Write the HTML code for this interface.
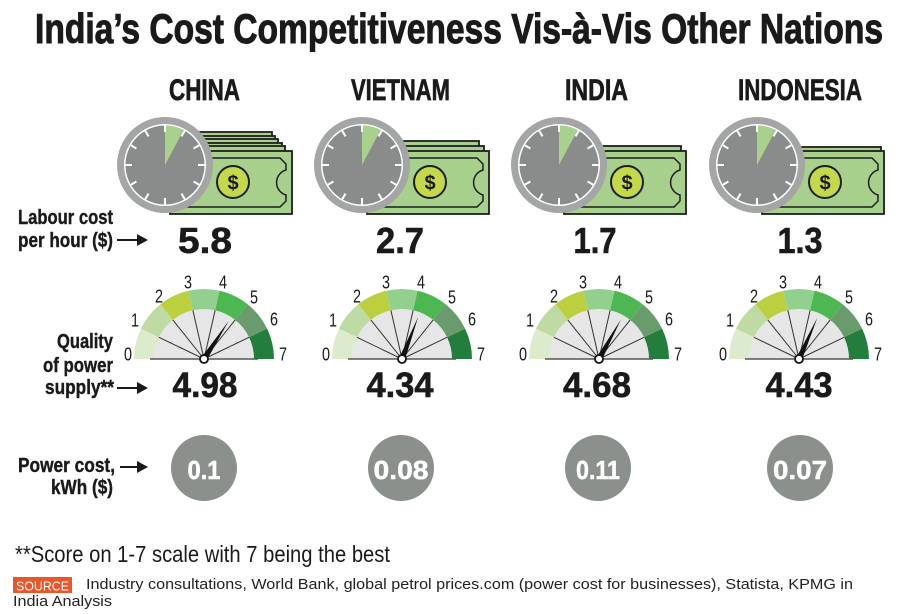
<!DOCTYPE html>
<html><head><meta charset="utf-8"><style>
html,body{margin:0;padding:0;background:#fff;}
svg{display:block;}
text{font-family:"Liberation Sans",sans-serif;fill:#1a1a1a;}
</style></head><body>
<svg width="900" height="614" viewBox="0 0 900 614" xmlns="http://www.w3.org/2000/svg">
<defs>
<g id="clock">
 <circle r="48" fill="#a3a6a4"/>
 <circle r="41" fill="#fff"/>
 <circle r="39.5" fill="#898c8a"/>
 <path d="M0,0 L0,-39.5 A39.5,39.5 0 0 1 18.55,-34.88 Z" fill="#a9d18e"/>
 <g stroke="#fff" stroke-width="2">
  <line y1="-39.5" y2="-33"/>
  <line y1="-39.5" y2="-33" transform="rotate(30)"/>
  <line y1="-39.5" y2="-33" transform="rotate(60)"/>
  <line y1="-39.5" y2="-33" transform="rotate(90)"/>
  <line y1="-39.5" y2="-33" transform="rotate(120)"/>
  <line y1="-39.5" y2="-33" transform="rotate(150)"/>
  <line y1="-39.5" y2="-33" transform="rotate(180)"/>
  <line y1="-39.5" y2="-33" transform="rotate(210)"/>
  <line y1="-39.5" y2="-33" transform="rotate(240)"/>
  <line y1="-39.5" y2="-33" transform="rotate(270)"/>
  <line y1="-39.5" y2="-33" transform="rotate(300)"/>
  <line y1="-39.5" y2="-33" transform="rotate(330)"/>
 </g>
</g>
<rect id="bill" x="-122" y="0" width="122" height="63" fill="#a8d08d" stroke="#1e1e1e" stroke-width="1.8"/>
<g id="frontshape">
 <rect x="-122" y="0" width="122" height="63" fill="#a8d08d" stroke="#1e1e1e" stroke-width="1.8"/>
 <path d="M-110,7 H-12 L-6,13 V19 A13 13 0 0 0 -6,44 V50 L-12,56 H-110" fill="none" stroke="#1e1e1e" stroke-width="1.5"/>
 <circle cx="-59" cy="31" r="16" fill="#c3d94a" stroke="#1e1e1e" stroke-width="2"/>
</g>
<g id="gauge">
 <path d="M-50,0 A50,50 0 0 1 50,0 Z" fill="#e6e6e6"/>
 <path d="M-70,0 A70,70 0 0 1 -63.07,-30.37 L-45.05,-21.69 A50,50 0 0 0 -50,0 Z" fill="#dcebcb"/>
 <path d="M-63.07,-30.37 A70,70 0 0 1 -43.64,-54.73 L-31.17,-39.09 A50,50 0 0 0 -45.05,-21.69 Z" fill="#bddba3"/>
 <path d="M-43.64,-54.73 A70,70 0 0 1 -15.58,-68.25 L-11.13,-48.75 A50,50 0 0 0 -31.17,-39.09 Z" fill="#bcd03f"/>
 <path d="M-15.58,-68.25 A70,70 0 0 1 15.58,-68.25 L11.13,-48.75 A50,50 0 0 0 -11.13,-48.75 Z" fill="#92d08f"/>
 <path d="M15.58,-68.25 A70,70 0 0 1 43.64,-54.73 L31.17,-39.09 A50,50 0 0 0 11.13,-48.75 Z" fill="#4db851"/>
 <path d="M43.64,-54.73 A70,70 0 0 1 63.07,-30.37 L45.05,-21.69 A50,50 0 0 0 31.17,-39.09 Z" fill="#6a9b6c"/>
 <path d="M63.07,-30.37 A70,70 0 0 1 70,0 L50,0 A50,50 0 0 0 45.05,-21.69 Z" fill="#237e3e"/>
 <g stroke="#333" stroke-width="1">
  <line x1="0" y1="0" x2="-45.05" y2="-21.69"/>
  <line x1="0" y1="0" x2="-31.17" y2="-39.09"/>
  <line x1="0" y1="0" x2="-11.13" y2="-48.75"/>
  <line x1="0" y1="0" x2="11.13" y2="-48.75"/>
  <line x1="0" y1="0" x2="31.17" y2="-39.09"/>
  <line x1="0" y1="0" x2="45.05" y2="-21.69"/>
 </g>
 <line x1="-54" y1="0" x2="54" y2="0" stroke="#555" stroke-width="1.5"/>
</g>
</defs>

<!-- Title -->
<text x="35" y="43" font-size="42" font-weight="bold" textLength="848" lengthAdjust="spacingAndGlyphs" stroke="#1a1a1a" stroke-width="1">India’s Cost Competitiveness Vis-à-Vis Other Nations</text>

<!-- Country names -->
<g font-size="30" font-weight="bold" stroke="#1a1a1a" stroke-width="0.7">
<text x="169" y="100" textLength="71" lengthAdjust="spacingAndGlyphs">CHINA</text>
<text x="351" y="100" textLength="99" lengthAdjust="spacingAndGlyphs">VIETNAM</text>
<text x="565" y="100" textLength="63" lengthAdjust="spacingAndGlyphs">INDIA</text>
<text x="738" y="100" textLength="124" lengthAdjust="spacingAndGlyphs">INDONESIA</text>
</g>

<!-- China bills -->
<g transform="translate(292,151)">
 <use href="#bill" transform="translate(-20,-19)"/>
 <use href="#bill" transform="translate(-17,-15)"/>
 <use href="#bill" transform="translate(-14,-12)"/>
 <use href="#bill" transform="translate(-10,-8)"/>
 <use href="#bill" transform="translate(-7,-5)"/>
 <use href="#frontshape"/>
 <text x="-59" y="38.5" font-size="20" font-weight="bold" text-anchor="middle">$</text>
</g>
<use href="#clock" transform="translate(165,165)"/>

<!-- Vietnam bills -->
<g transform="translate(489,151)">
 <use href="#bill" transform="translate(-10,-10)"/>
 <use href="#bill" transform="translate(-5,-5)"/>
 <use href="#frontshape"/>
 <text x="-59" y="38.5" font-size="20" font-weight="bold" text-anchor="middle">$</text>
</g>
<use href="#clock" transform="translate(362,165)"/>

<!-- India bills -->
<g transform="translate(686,151)">
 <use href="#bill" transform="translate(-5,-5)"/>
 <use href="#frontshape"/>
 <text x="-59" y="38.5" font-size="20" font-weight="bold" text-anchor="middle">$</text>
</g>
<use href="#clock" transform="translate(559,165)"/>

<!-- Indonesia bills -->
<g transform="translate(884,151)">
 <use href="#bill" transform="translate(-3,-4)"/>
 <use href="#frontshape"/>
 <text x="-59" y="38.5" font-size="20" font-weight="bold" text-anchor="middle">$</text>
</g>
<use href="#clock" transform="translate(757,165)"/>

<!-- Left labels -->
<g font-size="20" font-weight="bold" stroke="#1a1a1a" stroke-width="0.4">
<text x="18" y="224" textLength="95" lengthAdjust="spacingAndGlyphs">Labour cost</text>
<text x="18" y="247" textLength="95" lengthAdjust="spacingAndGlyphs">per hour ($)</text>
<text x="113" y="348" text-anchor="end" textLength="56" lengthAdjust="spacingAndGlyphs">Quality</text>
<text x="113" y="372" text-anchor="end" textLength="70" lengthAdjust="spacingAndGlyphs">of power</text>
<text x="114" y="394" text-anchor="end" textLength="69" lengthAdjust="spacingAndGlyphs">supply**</text>
<text x="18" y="472" textLength="97" lengthAdjust="spacingAndGlyphs">Power cost,</text>
<text x="113" y="494" text-anchor="end" textLength="62" lengthAdjust="spacingAndGlyphs">kWh ($)</text>
</g>

<!-- Arrows -->
<g stroke="#1a1a1a" stroke-width="2">
<line x1="117" y1="240" x2="140" y2="240"/>
<line x1="117" y1="388" x2="140" y2="388"/>
<line x1="120" y1="467" x2="140" y2="467"/>
</g>
<g fill="#1a1a1a">
<polygon points="137,234 148,240 137,246"/>
<polygon points="137,382 148,388 137,394"/>
<polygon points="137,461 148,467 137,473"/>
</g>

<!-- Labour values -->
<g font-size="36" font-weight="bold" text-anchor="middle" stroke="#1a1a1a" stroke-width="0.6">
<text x="205" y="253" textLength="54" lengthAdjust="spacingAndGlyphs">5.8</text>
<text x="400" y="253" textLength="48" lengthAdjust="spacingAndGlyphs">2.7</text>
<text x="595" y="253" textLength="43" lengthAdjust="spacingAndGlyphs">1.7</text>
<text x="800" y="253" textLength="45" lengthAdjust="spacingAndGlyphs">1.3</text>
</g>

<!-- Gauges -->
<g transform="translate(204,359)">
 <use href="#gauge"/>
 <polygon points="-3,0 0,-45 3,0" fill="#111" transform="rotate(33)"/>
 <circle r="4" fill="#fff" stroke="#111" stroke-width="1.8"/>
</g>
<g transform="translate(402,359)">
 <use href="#gauge"/>
 <polygon points="-3,0 0,-45 3,0" fill="#111" transform="rotate(21)"/>
 <circle r="4" fill="#fff" stroke="#111" stroke-width="1.8"/>
</g>
<g transform="translate(599,359)">
 <use href="#gauge"/>
 <polygon points="-3,0 0,-45 3,0" fill="#111" transform="rotate(29)"/>
 <circle r="4" fill="#fff" stroke="#111" stroke-width="1.8"/>
</g>
<g transform="translate(799,359)">
 <use href="#gauge"/>
 <polygon points="-3,0 0,-45 3,0" fill="#111" transform="rotate(24)"/>
 <circle r="4" fill="#fff" stroke="#111" stroke-width="1.8"/>
</g>

<!-- Gauge digit labels -->
<g font-size="18" text-anchor="middle">
<g transform="translate(204,359)">
<text x="-76" y="1.5" textLength="8" lengthAdjust="spacingAndGlyphs">0</text>
<text x="-69" y="-32.5" textLength="8" lengthAdjust="spacingAndGlyphs">1</text>
<text x="-45" y="-56.5" textLength="8" lengthAdjust="spacingAndGlyphs">2</text>
<text x="-16" y="-70.5" textLength="8" lengthAdjust="spacingAndGlyphs">3</text>
<text x="19" y="-70.5" textLength="8" lengthAdjust="spacingAndGlyphs">4</text>
<text x="50" y="-55.5" textLength="8" lengthAdjust="spacingAndGlyphs">5</text>
<text x="70" y="-33.5" textLength="8" lengthAdjust="spacingAndGlyphs">6</text>
<text x="79" y="1.5" textLength="8" lengthAdjust="spacingAndGlyphs">7</text>
</g>
<g transform="translate(402,359)">
<text x="-76" y="1.5" textLength="8" lengthAdjust="spacingAndGlyphs">0</text>
<text x="-69" y="-32.5" textLength="8" lengthAdjust="spacingAndGlyphs">1</text>
<text x="-45" y="-56.5" textLength="8" lengthAdjust="spacingAndGlyphs">2</text>
<text x="-16" y="-70.5" textLength="8" lengthAdjust="spacingAndGlyphs">3</text>
<text x="19" y="-70.5" textLength="8" lengthAdjust="spacingAndGlyphs">4</text>
<text x="50" y="-55.5" textLength="8" lengthAdjust="spacingAndGlyphs">5</text>
<text x="70" y="-33.5" textLength="8" lengthAdjust="spacingAndGlyphs">6</text>
<text x="79" y="1.5" textLength="8" lengthAdjust="spacingAndGlyphs">7</text>
</g>
<g transform="translate(599,359)">
<text x="-76" y="1.5" textLength="8" lengthAdjust="spacingAndGlyphs">0</text>
<text x="-69" y="-32.5" textLength="8" lengthAdjust="spacingAndGlyphs">1</text>
<text x="-45" y="-56.5" textLength="8" lengthAdjust="spacingAndGlyphs">2</text>
<text x="-16" y="-70.5" textLength="8" lengthAdjust="spacingAndGlyphs">3</text>
<text x="19" y="-70.5" textLength="8" lengthAdjust="spacingAndGlyphs">4</text>
<text x="50" y="-55.5" textLength="8" lengthAdjust="spacingAndGlyphs">5</text>
<text x="70" y="-33.5" textLength="8" lengthAdjust="spacingAndGlyphs">6</text>
<text x="79" y="1.5" textLength="8" lengthAdjust="spacingAndGlyphs">7</text>
</g>
<g transform="translate(799,359)">
<text x="-76" y="1.5" textLength="8" lengthAdjust="spacingAndGlyphs">0</text>
<text x="-69" y="-32.5" textLength="8" lengthAdjust="spacingAndGlyphs">1</text>
<text x="-45" y="-56.5" textLength="8" lengthAdjust="spacingAndGlyphs">2</text>
<text x="-16" y="-70.5" textLength="8" lengthAdjust="spacingAndGlyphs">3</text>
<text x="19" y="-70.5" textLength="8" lengthAdjust="spacingAndGlyphs">4</text>
<text x="50" y="-55.5" textLength="8" lengthAdjust="spacingAndGlyphs">5</text>
<text x="70" y="-33.5" textLength="8" lengthAdjust="spacingAndGlyphs">6</text>
<text x="79" y="1.5" textLength="8" lengthAdjust="spacingAndGlyphs">7</text>
</g>
</g>

<!-- Power quality values -->
<g font-size="35" font-weight="bold" text-anchor="middle" stroke="#1a1a1a" stroke-width="0.6">
<text x="205" y="397" textLength="65" lengthAdjust="spacingAndGlyphs">4.98</text>
<text x="400" y="397" textLength="67" lengthAdjust="spacingAndGlyphs">4.34</text>
<text x="597" y="397" textLength="68" lengthAdjust="spacingAndGlyphs">4.68</text>
<text x="799" y="397" textLength="67" lengthAdjust="spacingAndGlyphs">4.43</text>
</g>

<!-- Power cost circles -->
<g fill="#8b908c">
<circle cx="204" cy="468" r="33"/>
<circle cx="401" cy="468" r="33"/>
<circle cx="598" cy="468" r="33"/>
<circle cx="800" cy="468" r="33"/>
</g>
<g font-size="26" font-weight="bold" text-anchor="middle" stroke="#fff" stroke-width="0.5">
<text x="204" y="479" textLength="33" lengthAdjust="spacingAndGlyphs" style="fill:#fff">0.1</text>
<text x="401" y="479" textLength="55" lengthAdjust="spacingAndGlyphs" style="fill:#fff">0.08</text>
<text x="598" y="479" textLength="44" lengthAdjust="spacingAndGlyphs" style="fill:#fff">0.11</text>
<text x="800" y="479" textLength="54" lengthAdjust="spacingAndGlyphs" style="fill:#fff">0.07</text>
</g>

<!-- Footnote -->
<text x="15" y="562" font-size="23" textLength="375" lengthAdjust="spacingAndGlyphs">**Score on 1-7 scale with 7 being the best</text>

<!-- Source -->
<rect x="13" y="577" width="59" height="16" fill="#e8562a"/>
<text x="16" y="590.5" font-size="13" textLength="53" lengthAdjust="spacingAndGlyphs" style="fill:#fff">SOURCE</text>
<text x="86" y="589" font-size="14.5" textLength="767" lengthAdjust="spacingAndGlyphs" style="fill:#222">Industry consultations, World Bank, global petrol prices.com (power cost for businesses), Statista, KPMG in</text>
<text x="13" y="606" font-size="14.5" textLength="99" lengthAdjust="spacingAndGlyphs" style="fill:#222">India Analysis</text>
</svg>
</body></html>
